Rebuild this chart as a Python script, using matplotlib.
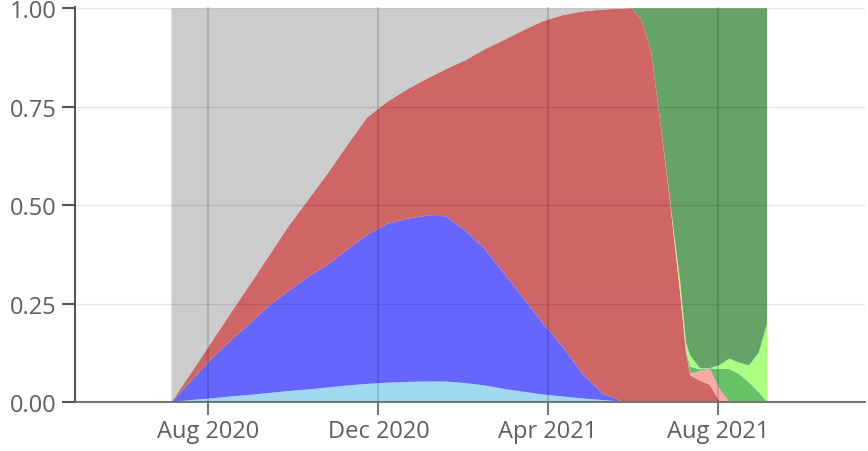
import pandas as pd
import matplotlib.pyplot as plt
import matplotlib.dates as mdates

plt.rcParams['font.family'] = ['Open Sans', 'DejaVu Sans']

# sampling dates (weekly / biweekly, denser around the switch in summer 2021)
dates = ['2020-07-06', '2020-07-20', '2020-08-03', '2020-08-17', '2020-08-31',
         '2020-09-14', '2020-09-28', '2020-10-12', '2020-10-26', '2020-11-09',
         '2020-11-23', '2020-12-07', '2020-12-21', '2021-01-04', '2021-01-18',
         '2021-02-01', '2021-02-15', '2021-03-01', '2021-03-15', '2021-03-29',
         '2021-04-12', '2021-04-26', '2021-05-10', '2021-05-24', '2021-05-31',
         '2021-06-07', '2021-06-14', '2021-06-21', '2021-06-28', '2021-07-05',
         '2021-07-09', '2021-07-12', '2021-07-19', '2021-07-26', '2021-08-02',
         '2021-08-09', '2021-08-16', '2021-08-23', '2021-08-30', '2021-09-05']

# share of each group, bottom to top
light_blue = [0, .005, .009, .014, .018, .023, .028, .032, .037, .042,
              .046, .049, .051, .052, .052, .048, .042, .033, .026, .019,
              .014, .009, .005, .001, 0, 0, 0, 0, 0, 0,
              0, 0, 0, 0, 0, 0, 0, 0, 0, 0]
blue = [0, .049, .099, .141, .182, .222, .255, .287, .313, .346,
        .379, .403, .414, .421, .420, .388, .347, .293, .236, .179,
        .125, .062, .017, .001, 0, 0, 0, 0, 0, 0,
        0, 0, 0, 0, 0, 0, 0, 0, 0, 0]
red = [0, .020, .041, .069, .098, .128, .165, .196, .232, .266,
       .298, .310, .328, .347, .373, .432, .507, .594, .683, .770,
       .844, .921, .975, .997, 1.0, .972, .890, .700, .495, .270,
       .125, .068, .054, .044, .002, 0, 0, 0, 0, 0]
pink = [0] * 30 + [0, .004, .025, .040, .031, 0, 0, 0, 0, 0]
green = [0] * 30 + [.005, .018, .004, .002, .051, .084, .071, .050, .025, 0]
light_green = [0] * 28 + [.005, .030, .020, .028, .003, 0, .010, .026, .029, .043, .100, .200]
dark_green = [0] * 25 + [.028, .110, .300, .500, .700, .850, .882, .914, .914, .906,
                         .890, .900, .907, .875, .800]
gray = [1, .926, .851, .776, .702, .627, .552, .485, .418, .346,
        .277, .238, .207, .180, .155, .132, .104, .080, .055, .032,
        .017, .008, .003, .001, 0, 0, 0, 0, 0, 0,
        0, 0, 0, 0, 0, 0, 0, 0, 0, 0]

colors = ['#a1d9f1', '#6666ff', '#cf6565', '#ffaaaa', '#66c266',
          '#aaff80', '#66a366', '#cccccc']

x = pd.to_datetime(dates)

fig = plt.figure(figsize=(8.68, 4.52), dpi=100)
ax = fig.add_axes([75 / 868, 49 / 452, 790 / 868, 395 / 452])
ax.stackplot(x, light_blue, blue, red, pink, green, light_green, dark_green, gray,
             colors=colors, linewidth=0)

ax.set_xlim(pd.Timestamp('2020-04-28'), pd.Timestamp('2021-11-14'))
ax.set_ylim(0, 1.0033)
ax.set_yticks([0, 0.25, 0.5, 0.75, 1.0])
ax.set_yticklabels(['0.00', '0.25', '0.50', '0.75', '1.00'])
ax.xaxis.set_major_locator(mdates.MonthLocator(bymonth=[4, 8, 12]))
ax.xaxis.set_major_formatter(mdates.DateFormatter('%b %Y'))

# grid on top of the areas, like the original
ax.set_axisbelow(False)
ax.grid(axis='y', color='black', alpha=0.1, linewidth=1.0)
ax.grid(axis='x', color='black', alpha=0.18, linewidth=1.2)

for side in ['top', 'right']:
    ax.spines[side].set_visible(False)
ax.spines['left'].set_color('#555555')
ax.spines['left'].set_linewidth(1.5)
ax.spines['bottom'].set_color('#777777')
ax.spines['bottom'].set_linewidth(1.5)
ax.tick_params(axis='y', length=9.5, width=1.5, color='#555555', pad=3.5,
               labelsize=17, labelcolor='#5f5f5f')
ax.tick_params(axis='x', length=9, width=1.5, color='#777777', pad=3.5,
               labelsize=17, labelcolor='#5f5f5f')

plt.savefig('out.png', dpi=100)
